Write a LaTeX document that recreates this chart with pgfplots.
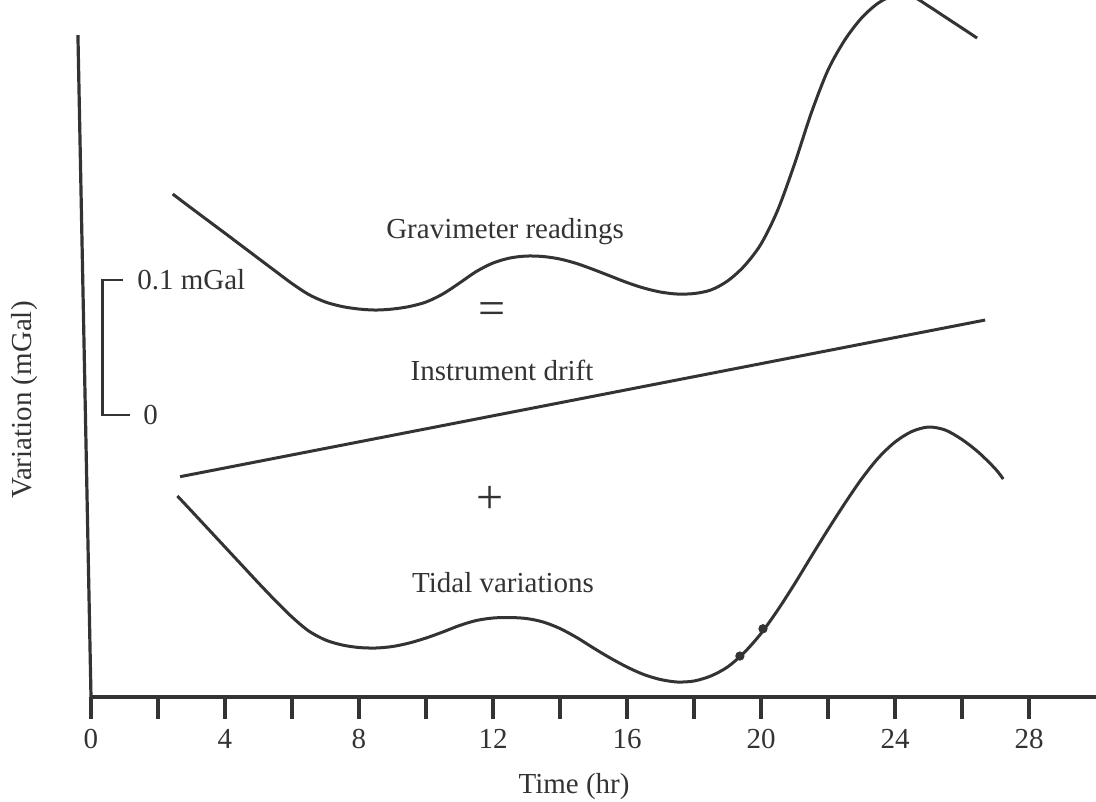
\documentclass[border=0pt]{standalone}
\usepackage{fontspec}
\setmainfont{Liberation Serif}
\usepackage{pgfplots}
\pgfplotsset{compat=1.18}
\definecolor{ink}{HTML}{333333}

\begin{document}
\fontsize{14.5}{17}\selectfont
\begin{tikzpicture}
\begin{axis}[
  scale only axis, width=502.5pt, height=348.5pt,
  xmin=0, xmax=30, ymin=0, ymax=0.5362,
  axis x line=bottom, axis y line=none,
  x axis line style={-, line width=1.6pt, color=ink},
  xtick={0,2,...,28},
  xticklabels={0,,4,,8,,12,,16,,20,,24,,28},
  tick align=outside, major tick length=11pt,
  xtick style={line width=1.6pt, color=ink},
  ytick=\empty,
  tick label style={font=\fontsize{14.5}{17}\selectfont, text=ink},
  clip=false,
]
% Gravimeter readings
\addplot[ink, line width=1.5pt, no markers, smooth, tension=0.5] coordinates {
 (2.44,0.38692) (3.0,0.37600) (4.0,0.35677) (5.0,0.33738) (5.5,0.32769)
 (6.0,0.31808) (6.5,0.30962) (7.0,0.30385) (7.5,0.30038) (8.0,0.29846)
 (8.5,0.29769) (9.0,0.29846) (9.5,0.30038) (10.0,0.30385) (10.5,0.31000)
 (11.0,0.31846) (11.5,0.32731) (12.0,0.33385) (12.5,0.33769) (13.0,0.33923)
 (13.5,0.33885) (14.0,0.33692) (14.5,0.33346) (15.0,0.32885) (15.5,0.32385)
 (16.0,0.31885) (16.5,0.31462) (17.0,0.31154) (17.5,0.31000) (18.0,0.31038)
 (18.5,0.31308) (19.0,0.32000) (19.5,0.33154) (20.0,0.34846) (20.5,0.37462)
 (21.0,0.41000) (21.5,0.44923) (22.0,0.48231) (22.5,0.50538) (23.0,0.52231)
 (23.5,0.53385) (24.0,0.54000) (24.5,0.53923) (25.0,0.53154) (25.5,0.52308)
 (26.0,0.51462) (26.45,0.50692)
};
% Instrument drift
\addplot[ink, line width=1.5pt, no markers] coordinates {(2.66,0.1695) (26.69,0.290)};
% Tidal variations
\addplot[ink, line width=1.5pt, no markers, smooth, tension=0.5] coordinates {
 (2.58,0.15462) (3.0,0.14308) (3.5,0.12923) (4.0,0.11538) (4.5,0.10154)
 (5.0,0.08769) (5.5,0.07423) (6.0,0.06154) (6.5,0.05077) (7.0,0.04385)
 (7.5,0.04000) (8.0,0.03808) (8.5,0.03769) (9.0,0.03885) (9.5,0.04154)
 (10.0,0.04538) (10.5,0.05000) (11.0,0.05500) (11.5,0.05885) (12.0,0.06077)
 (12.5,0.06115) (13.0,0.06038) (13.5,0.05769) (14.0,0.05269) (14.5,0.04577)
 (15.0,0.03769) (15.5,0.03000) (16.0,0.02308) (16.5,0.01731) (17.0,0.01346)
 (17.5,0.01154) (18.0,0.01231) (18.5,0.01615) (19.0,0.02308) (19.5,0.03423)
 (20.0,0.04885) (20.5,0.06692) (21.0,0.08692) (21.5,0.10808) (22.0,0.12885)
 (22.5,0.14885) (23.0,0.16769) (23.5,0.18385) (24.0,0.19615) (24.5,0.20423)
 (25.0,0.20769) (25.5,0.20538) (26.0,0.19808) (26.5,0.18808) (27.0,0.17538)
 (27.23,0.16769)
};
% small marks on the tidal curve
\addplot[only marks, mark=*, mark size=2.1pt, ink] coordinates {(19.37,0.0315) (20.06,0.0525)};

% left axis line (slightly tilted as in the original)
\draw[ink, line width=1.6pt] (axis cs:0,0) -- (axis cs:-0.39,0.5092);

% scale bar
\draw[ink, line width=1.4pt] (axis cs:0.96,0.3208) -- (axis cs:0.35,0.3208)
  -- (axis cs:0.35,0.2169) -- (axis cs:1.15,0.2169);
\node[anchor=west, ink, inner sep=0pt] at (axis cs:1.37,0.3208) {0.1 mGal};
\node[anchor=west, ink, inner sep=0pt] at (axis cs:1.55,0.2169) {0};

% labels
\node[ink] at (axis cs:12.36,0.358) {Gravimeter readings};
\node[ink, font=\fontsize{24}{28}\selectfont] at (axis cs:11.97,0.295) {=};
\node[ink] at (axis cs:12.27,0.2515) {Instrument drift};
\node[ink, font=\fontsize{24}{28}\selectfont] at (axis cs:11.91,0.1515) {+};
\node[ink] at (axis cs:12.30,0.0877) {Tidal variations};
\node[ink] at (axis cs:14.42,-0.0692) {Time (hr)};
\node[ink, rotate=90] at (axis cs:-1.97,0.2285) {Variation (mGal)};

\coordinate (BBL) at (rel axis cs:-0.09055,-0.14921);
\coordinate (BTR) at (rel axis cs:1,1);
\end{axis}
\pgfresetboundingbox
\useasboundingbox (BBL) rectangle (BTR);
\end{tikzpicture}
\end{document}
